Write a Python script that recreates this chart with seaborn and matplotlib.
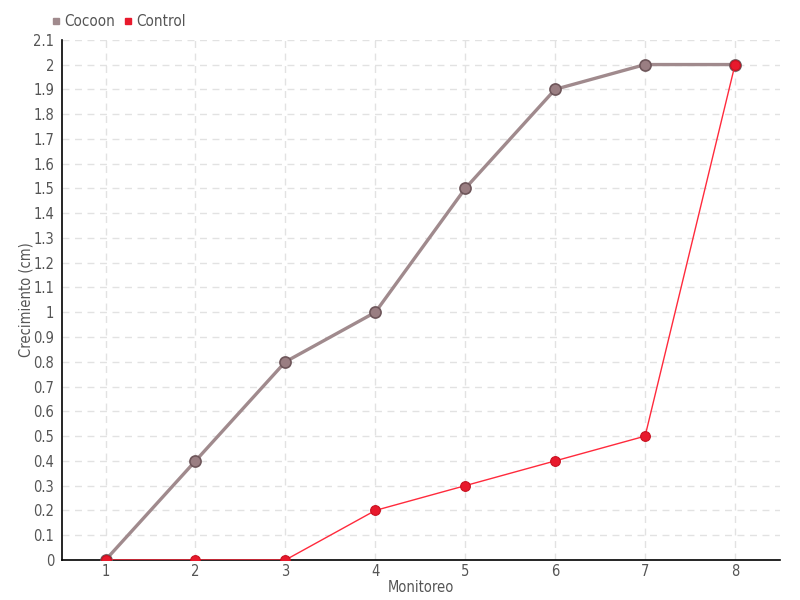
import numpy as np
import pandas as pd
import matplotlib
matplotlib.use("Agg")
import matplotlib.pyplot as plt
import seaborn as sns

# values
monitoreo = [1, 2, 3, 4, 5, 6, 7, 8]
cocoon = [0, 0.4, 0.8, 1.0, 1.5, 1.9, 2.0, 2.0]
control = [0, 0, 0, 0.2, 0.3, 0.4, 0.5, 2.0]
y_ticks = [round(i * 0.1, 1) for i in range(22)]

df = pd.DataFrame({"Monitoreo": monitoreo * 2,
                   "Crecimiento": cocoon + control,
                   "Serie": ["Cocoon"] * 8 + ["Control"] * 8})

sns.set_style("white")
plt.rcParams["font.family"] = ["DejaVu Sans"]
plt.rcParams["font.stretch"] = "condensed"
text_col = "#555555"

fig = plt.figure(figsize=(8, 6), dpi=100)
ax = fig.add_axes([0.078, 0.0667, 0.897, 0.867])

cocoon_col = "#a08a8d"
control_col = "#e8192c"

sns.lineplot(data=df[df["Serie"] == "Cocoon"], x="Monitoreo", y="Crecimiento",
             ax=ax, color=cocoon_col, linewidth=2.4, marker="o", markersize=8,
             markerfacecolor="#9a7e82", markeredgecolor="#6e565a", markeredgewidth=1.2,
             label="Cocoon", zorder=3)
sns.lineplot(data=df[df["Serie"] == "Control"], x="Monitoreo", y="Crecimiento",
             ax=ax, color="#ff2a3c", linewidth=1, marker="o", markersize=7,
             markerfacecolor=control_col, markeredgecolor="#c81020", markeredgewidth=0.8,
             label="Control", zorder=4)

ax.set_xlim(0.52, 8.5)
ax.set_ylim(0, 2.1)
ax.set_xticks(monitoreo)
ax.set_xticklabels([str(m) for m in monitoreo])
ax.set_yticks(y_ticks)
ax.set_yticklabels([("%g" % t) for t in y_ticks])
ax.grid(True, color="#e2e2e2", linestyle=(0, (5, 4)), linewidth=1)
ax.set_axisbelow(True)

for s in ["top", "right"]:
    ax.spines[s].set_visible(False)
ax.spines["left"].set_color("black")
ax.spines["bottom"].set_color("black")
ax.spines["left"].set_linewidth(1.2)
ax.spines["bottom"].set_linewidth(1.2)
ax.tick_params(axis="y", length=4, width=1.2, colors="black", labelcolor=text_col, labelsize=10.5, pad=2)
ax.tick_params(axis="x", length=0, labelcolor=text_col, labelsize=10.5, pad=3)

ax.set_xlabel("Monitoreo", color=text_col, fontsize=10.5)
ax.set_ylabel("Crecimiento (cm)", color=text_col, fontsize=10.5)
ax.yaxis.set_label_coords(-0.0405, 0.5)
ax.xaxis.set_label_coords(0.499, -0.038)

handles = [plt.Line2D([], [], marker="s", linestyle="", color=cocoon_col, markersize=5),
           plt.Line2D([], [], marker="s", linestyle="", color=control_col, markersize=5)]
ax.legend(handles, ["Cocoon", "Control"], loc="lower left", bbox_to_anchor=(-0.03, 1.0),
          ncol=2, frameon=False, fontsize=11, labelcolor=text_col,
          handlelength=0.6, handletextpad=0.2, columnspacing=0.6, borderaxespad=0.3)

fig.savefig("out.png", dpi=100)
